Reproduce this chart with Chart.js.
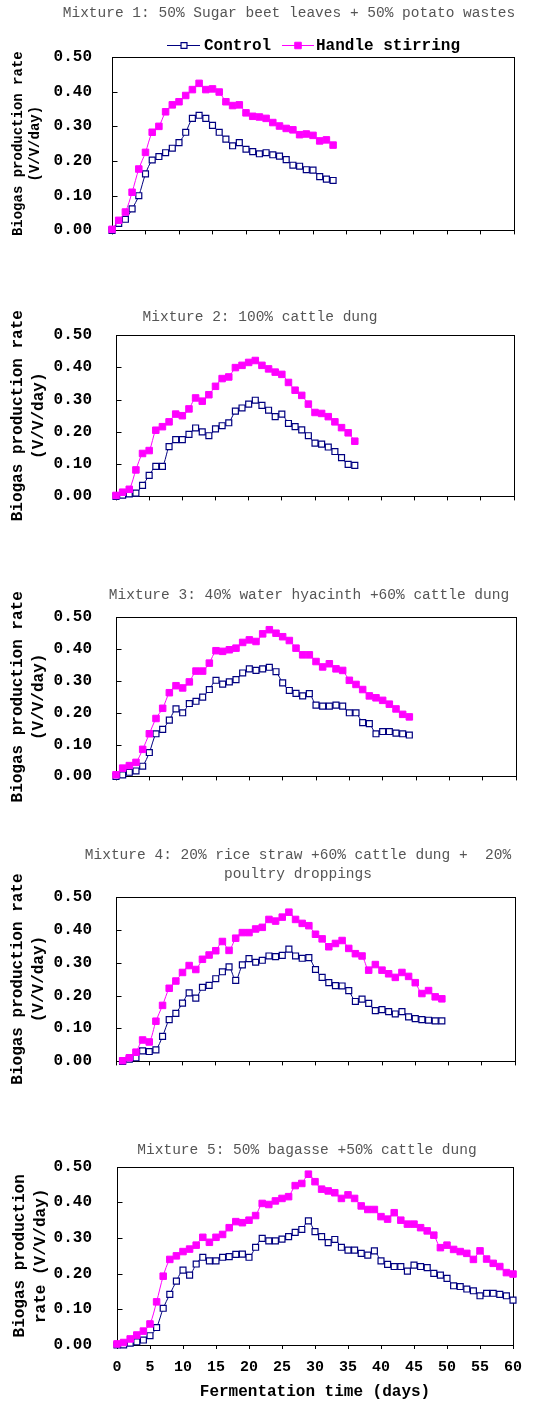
<!DOCTYPE html>
<html><head><meta charset="utf-8">
<script src="https://cdn.jsdelivr.net/npm/chart.js@4.4.1/dist/chart.umd.min.js"></script>
<style>
html,body{margin:0;padding:0;background:#fff;}
body{width:533px;height:1403px;position:relative;overflow:hidden;}
canvas{position:absolute;left:0;}
</style></head><body>
<script>
// ---------- data ----------
const days = [0,1,2,3,4,5,6,7,8,9,10,11,12,13,14,15,16,17,18,19,20,21,22,23,24,25,26,27,28,29,30,
  31,32,33,34,35,36,37,38,39,40,41,42,43,44,45,46,47,48,49,50,51,52,53,54,55,56,57,58,59,60];
const seriesNames = ['Control', 'Handle stirring'];
const xTitle = 'Fermentation time (days)';
const yTitleLines = ['Biogas production rate', '(V/V/day)'];
const yTitleLinesLast = ['Biogas production', 'rate (V/V/day)'];

const title1 = ['Mixture 1: 50% Sugar beet leaves + 50% potato wastes'];
const title2 = ['Mixture 2: 100% cattle dung'];
const title3 = ['Mixture 3: 40% water hyacinth +60% cattle dung'];
const title4 = ['Mixture 4: 20% rice straw +60% cattle dung +  20%', 'poultry droppings'];
const title5 = ['Mixture 5: 50% bagasse +50% cattle dung'];

// Mixture 1: days 0-33
const control1 = [0.0,0.02,0.032,0.062,0.10,0.163,0.203,0.213,0.224,0.237,0.253,0.283,0.323,0.332,0.323,0.303,0.283,0.263,0.244,0.253,0.234,0.227,0.221,0.224,0.218,0.214,0.204,0.188,0.185,0.175,0.174,0.155,0.148,0.144];
const stirring1 = [0.003,0.029,0.053,0.11,0.177,0.225,0.283,0.30,0.342,0.362,0.371,0.389,0.406,0.424,0.406,0.408,0.399,0.371,0.36,0.362,0.339,0.329,0.327,0.323,0.311,0.301,0.294,0.29,0.276,0.278,0.274,0.258,0.261,0.246];
// Mixture 2: days 0-36
const control2 = [0.0,0.004,0.008,0.01,0.034,0.065,0.093,0.093,0.154,0.176,0.176,0.192,0.212,0.2,0.188,0.209,0.219,0.228,0.264,0.274,0.286,0.298,0.282,0.267,0.247,0.255,0.226,0.216,0.206,0.188,0.165,0.162,0.153,0.139,0.12,0.099,0.096];
const stirring2 = [0.003,0.013,0.022,0.082,0.133,0.142,0.205,0.216,0.231,0.255,0.25,0.271,0.305,0.295,0.315,0.341,0.365,0.37,0.399,0.406,0.415,0.421,0.406,0.395,0.385,0.378,0.353,0.329,0.313,0.286,0.26,0.257,0.247,0.231,0.213,0.197,0.171];
// Mixture 3: days 0-44
const control3 = [0.0,0.005,0.013,0.017,0.032,0.075,0.134,0.148,0.177,0.212,0.2,0.229,0.236,0.249,0.273,0.302,0.29,0.297,0.304,0.325,0.338,0.333,0.338,0.343,0.329,0.294,0.27,0.261,0.253,0.26,0.224,0.221,0.221,0.224,0.221,0.2,0.2,0.169,0.166,0.134,0.141,0.141,0.136,0.134,0.13];
const stirring3 = [0.005,0.026,0.034,0.044,0.085,0.134,0.182,0.214,0.263,0.285,0.278,0.297,0.331,0.331,0.356,0.395,0.393,0.398,0.403,0.421,0.429,0.424,0.448,0.461,0.45,0.439,0.427,0.403,0.382,0.382,0.361,0.344,0.354,0.338,0.333,0.302,0.289,0.273,0.253,0.247,0.239,0.227,0.212,0.195,0.187];
// Mixture 4: days 1-49
const control4 = [0.0,0.007,0.011,0.032,0.03,0.035,0.076,0.127,0.146,0.177,0.208,0.192,0.225,0.231,0.251,0.272,0.287,0.246,0.293,0.312,0.301,0.307,0.32,0.318,0.322,0.341,0.32,0.313,0.315,0.279,0.255,0.239,0.23,0.229,0.215,0.182,0.189,0.176,0.154,0.157,0.151,0.144,0.151,0.135,0.13,0.127,0.125,0.123,0.123];
const stirring4 = [0.002,0.011,0.028,0.065,0.059,0.122,0.17,0.222,0.244,0.27,0.291,0.279,0.31,0.323,0.336,0.364,0.337,0.374,0.391,0.391,0.402,0.407,0.431,0.426,0.438,0.453,0.431,0.419,0.412,0.386,0.372,0.348,0.358,0.367,0.343,0.327,0.32,0.277,0.294,0.277,0.266,0.255,0.27,0.258,0.239,0.206,0.215,0.196,0.19];
// Mixture 5: days 0-60
const control5 = [0.0,0.0,0.005,0.009,0.014,0.026,0.049,0.103,0.142,0.179,0.21,0.196,0.227,0.246,0.236,0.236,0.246,0.248,0.254,0.255,0.246,0.274,0.299,0.292,0.292,0.297,0.304,0.316,0.324,0.348,0.318,0.304,0.287,0.296,0.274,0.266,0.266,0.257,0.252,0.264,0.236,0.226,0.22,0.22,0.207,0.224,0.22,0.217,0.201,0.196,0.187,0.166,0.164,0.157,0.152,0.138,0.145,0.145,0.142,0.138,0.126];
const stirring5 = [0.003,0.007,0.017,0.028,0.039,0.059,0.121,0.193,0.24,0.25,0.262,0.269,0.28,0.302,0.288,0.302,0.31,0.329,0.346,0.343,0.35,0.363,0.397,0.394,0.404,0.411,0.416,0.447,0.453,0.479,0.458,0.437,0.432,0.427,0.411,0.421,0.411,0.39,0.38,0.38,0.36,0.353,0.371,0.35,0.339,0.339,0.329,0.32,0.308,0.273,0.28,0.268,0.262,0.257,0.24,0.264,0.241,0.229,0.22,0.203,0.199];

// ---------- drawing ----------
const FONT = '"Liberation Mono", "DejaVu Sans Mono", monospace';
const NAVY = '#000080', MAGENTA = '#FF00FF';
const W = 533;

function pts(xs, ys) { return ys.map((v, i) => ({x: xs[i], y: v})); }

function panel(p) {
  const c = document.createElement('canvas');
  c.width = W; c.height = p.h;
  c.style.top = p.top + 'px'; c.style.width = W + 'px'; c.style.height = p.h + 'px';
  document.body.appendChild(c);
  const last = !!p.last;
  const xh = last ? 57 : 10;

  const framePlugin = {
    id: 'frame',
    beforeDatasetsDraw(chart) {
      const {ctx, chartArea: a, scales: {y}} = chart;
      ctx.save();
      ctx.strokeStyle = '#000'; ctx.lineWidth = 1;
      const l = Math.round(a.left) + 0.5, t = Math.round(a.top) + 0.5;
      const r = Math.round(a.right) + 0.5, b = Math.round(a.bottom) + 0.5;
      ctx.strokeRect(l, t, r - l, b - t);
      ctx.beginPath();
      y.ticks.forEach(tk => {
        const py = Math.round(y.getPixelForValue(tk.value)) + 0.5;
        ctx.moveTo(l, py); ctx.lineTo(l + 5, py);
      });
      ctx.stroke();
      ctx.restore();
    },
    afterDraw(chart) {
      const ctx = chart.ctx;
      ctx.save();
      ctx.fillStyle = '#555555';
      ctx.font = '14.5px ' + FONT;
      ctx.textAlign = 'center'; ctx.textBaseline = 'middle';
      p.title.forEach((line, i) => ctx.fillText(line, p.titleX, p.titleY[i] - p.top));
      if (p.legend) {
        const ds = chart.data.datasets;
        const items = [
          {d: ds[0], x1: 167, x2: 200, m: 184, tx: 204},
          {d: ds[1], x1: 282, x2: 314, m: 298, tx: 316}
        ];
        const ly = 45 - p.top;
        items.forEach(it => {
          ctx.strokeStyle = it.d.borderColor; ctx.lineWidth = 1;
          ctx.beginPath(); ctx.moveTo(it.x1, ly + 0.5); ctx.lineTo(it.x2, ly + 0.5); ctx.stroke();
          const s = it.d.pointRadius * Math.SQRT2;
          ctx.fillStyle = it.d.pointBackgroundColor;
          ctx.lineWidth = it.d.pointBorderWidth;
          ctx.strokeStyle = it.d.pointBorderColor;
          ctx.beginPath(); ctx.rect(it.m - s / 2, ly + 0.5 - s / 2, s, s); ctx.fill(); ctx.stroke();
          ctx.fillStyle = '#000';
          ctx.font = 'bold 16px ' + FONT;
          ctx.textAlign = 'left';
          ctx.fillText(it.d.label, it.tx, ly + 1);
        });
      }
      ctx.restore();
    }
  };

  new Chart(c, {
    type: 'line',
    data: {
      datasets: [
        {
          label: seriesNames[0], data: pts(p.xs, p.control), order: 2,
          borderColor: NAVY, borderWidth: 1, tension: 0.3,
          pointStyle: 'rect', pointRadius: 4.2, pointBorderWidth: 1.2,
          pointBackgroundColor: '#ffffff', pointBorderColor: NAVY, clip: false
        },
        {
          label: seriesNames[1], data: pts(p.xs, p.stirring), order: 1,
          borderColor: MAGENTA, borderWidth: 1, tension: 0.3,
          pointStyle: 'rect', pointRadius: 4.6, pointBorderWidth: 1,
          pointBackgroundColor: MAGENTA, pointBorderColor: MAGENTA, clip: false
        }
      ]
    },
    options: {
      responsive: false, animation: false, devicePixelRatio: 1,
      events: [],
      layout: {padding: {top: p.T, right: W - p.R, bottom: p.h - p.B - xh, left: 0}},
      plugins: {legend: {display: false}, title: {display: false}, tooltip: {enabled: false}},
      scales: {
        x: {
          type: 'linear', min: 0, max: 60,
          ticks: {stepSize: 5, display: last, autoSkip: false, maxRotation: 0, padding: 9,
                  color: '#000', font: {family: FONT, size: 15, weight: 'bold', lineHeight: 1.2}},
          grid: {drawOnChartArea: false, drawTicks: true, tickLength: 4, color: '#000', lineWidth: 1},
          border: {display: false},
          title: {display: last, text: xTitle, color: '#000',
                  font: {family: FONT, size: 16, weight: 'bold', lineHeight: 1.2},
                  padding: {top: 0, bottom: 0}},
          afterFit: s => { s.height = xh; }
        },
        y: {
          min: 0, max: 0.5,
          ticks: {stepSize: 0.1, padding: p.L - 92, color: '#000',
                  font: {family: FONT, size: 16, weight: 'bold'},
                  callback: v => v.toFixed(2)},
          grid: {display: false, drawTicks: false},
          border: {display: false},
          title: {display: true, text: p.yTitle, color: '#000',
                  font: {family: FONT, size: p.yFont, weight: 'bold', lineHeight: p.yLh + 'px'},
                  padding: {top: p.yPad, bottom: 0}},
          afterFit: s => { s.width = p.L; }
        }
      }
    },
    plugins: [framePlugin]
  });
}

panel({top: 0, h: 260, L: 112, R: 514, T: 57, B: 237.5,
  xs: days.slice(0, 34), control: control1, stirring: stirring1,
  title: title1, titleX: 289, titleY: [13.5], legend: true,
  yTitle: yTitleLines, yFont: 14, yLh: 17, yPad: 9.5});
panel({top: 290, h: 240, L: 116, R: 514, T: 45, B: 218.3,
  xs: days.slice(0, 37), control: control2, stirring: stirring2,
  title: title2, titleX: 260, titleY: [317],
  yTitle: yTitleLines, yFont: 16, yLh: 21, yPad: 7.5});
panel({top: 575, h: 235, L: 116, R: 516, T: 42.3, B: 213.3,
  xs: days.slice(0, 45), control: control3, stirring: stirring3,
  title: title3, titleX: 309, titleY: [595],
  yTitle: yTitleLines, yFont: 16, yLh: 21, yPad: 7.5});
panel({top: 835, h: 260, L: 116, R: 515, T: 61.7, B: 237.3,
  xs: days.slice(1, 50), control: control4, stirring: stirring4,
  title: title4, titleX: 298, titleY: [855, 874],
  yTitle: yTitleLines, yFont: 16, yLh: 21, yPad: 7.5});
panel({top: 1130, h: 273, L: 117, R: 513, T: 36.7, B: 215, last: true,
  xs: days, control: control5, stirring: stirring5,
  title: title5, titleX: 307, titleY: [1150],
  yTitle: yTitleLinesLast, yFont: 16, yLh: 21, yPad: 9.5});
</script>
</body></html>
